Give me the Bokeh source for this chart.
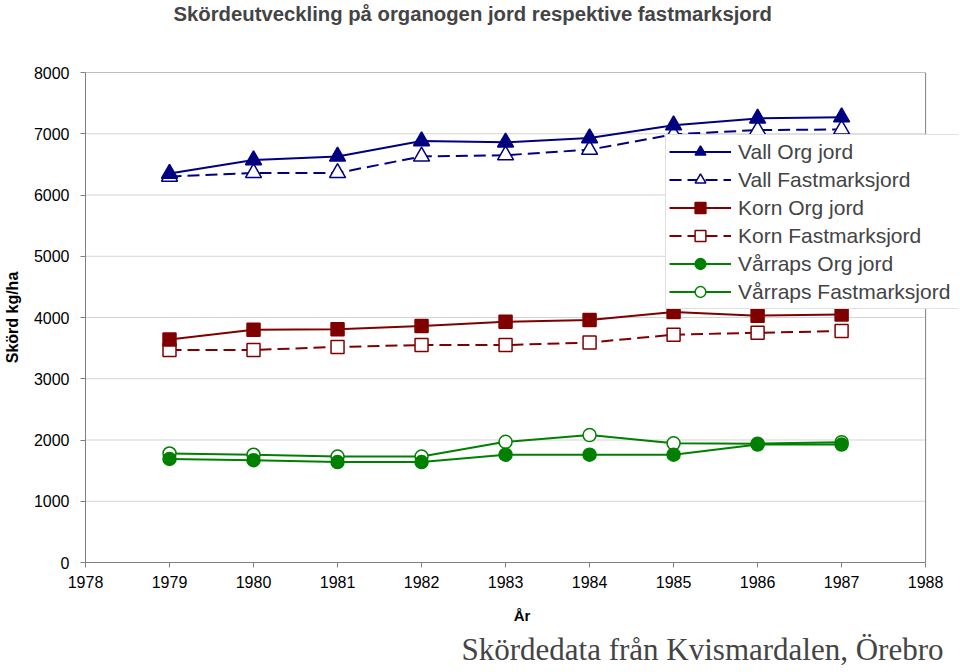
from bokeh.plotting import figure
from bokeh.models import Legend, LegendItem, Title, FixedTicker, Range1d
from bokeh.embed import file_html
from bokeh.resources import INLINE

# ---- data ----
years = [1979, 1980, 1981, 1982, 1983, 1984, 1985, 1986, 1987]
vall_org = [6350, 6570, 6630, 6880, 6860, 6930, 7140, 7250, 7270]
vall_fast = [6300, 6360, 6360, 6630, 6650, 6740, 6990, 7060, 7070]
korn_org = [3640, 3800, 3810, 3860, 3930, 3960, 4090, 4030, 4050]
korn_fast = [3470, 3470, 3520, 3550, 3550, 3590, 3720, 3750, 3780]
varraps_org = [1690, 1670, 1640, 1640, 1760, 1760, 1760, 1925, 1925]
varraps_fast = [1780, 1760, 1730, 1730, 1970, 2080, 1945, 1940, 1965]

x_ticks = [1978, 1979, 1980, 1981, 1982, 1983, 1984, 1985, 1986, 1987, 1988]
y_ticks = [0, 1000, 2000, 3000, 4000, 5000, 6000, 7000, 8000]

title_text = "Skördeutveckling på organogen jord respektive fastmarksjord"
source_text = "Skördedata från Kvismardalen, Örebro"
x_label = "År"
y_label = "Skörd kg/ha"
labels = ["Vall Org jord", "Vall Fastmarksjord", "Korn Org jord",
          "Korn Fastmarksjord", "Vårraps Org jord", "Vårraps Fastmarksjord"]

NAVY = "#000080"
RED = "#800000"
GREEN = "#008000"
GRAY = "#808080"
GRID = "#d4d4d4"
FONT = "Liberation Sans"

x0, x1 = x_ticks[0], x_ticks[-1]
y0, y1 = y_ticks[0], y_ticks[-1]
# frame extends a little to the right of the last year so the legend can overhang
x_pad = 33 / 84.3

p = figure(width=960, height=672, output_backend="svg", toolbar_location=None,
           x_range=Range1d(x0, x1 + x_pad), y_range=Range1d(y0, y1),
           min_border_left=82, min_border_right=2, min_border_top=71,
           min_border_bottom=110, background_fill_color="white",
           border_fill_color="white")

# spacer between title and frame
spacer = Title(text=" ", text_font_size="10px", standoff=35)
p.add_layout(spacer, "above")

p.title.text = title_text
p.title.text_font = FONT
p.title.text_font_size = "20.3px"
p.title.text_font_style = "bold"
p.title.align = "left"
p.title.offset = 88
p.title.standoff = 0

p.outline_line_color = None

# axes
for ax in (p.xaxis, p.yaxis):
    ax.axis_line_color = GRAY
    ax.major_tick_line_color = GRAY
    ax.minor_tick_line_color = None
    ax.major_tick_in = 0
    ax.major_tick_out = 5
    ax.major_label_text_font = FONT
    ax.major_label_text_font_size = "16px"
    ax.major_label_text_color = "black"
    ax.axis_label_text_font = FONT
    ax.axis_label_text_font_style = "bold"
    ax.axis_label_text_color = "black"

p.xaxis.ticker = FixedTicker(ticks=x_ticks)
p.xaxis.bounds = (x0, x1)
p.yaxis.ticker = FixedTicker(ticks=y_ticks)
p.xaxis.major_label_standoff = 8
p.yaxis.major_label_standoff = 11
p.xaxis.axis_label = x_label
p.xaxis.axis_label_text_font_size = "15px"
p.xaxis.axis_label_standoff = 16
p.yaxis.axis_label = y_label
p.yaxis.axis_label_text_font_size = "16px"
p.yaxis.axis_label_standoff = 10

p.xgrid.grid_line_color = None
p.ygrid.grid_line_color = None

# gridlines and frame border limited to the 1978-1988 span
inner = [t for t in y_ticks if y0 < t < y1]
p.segment(x0=[x0] * len(inner), y0=inner, x1=[x1] * len(inner), y1=inner,
          line_color=GRID, line_width=1)
p.segment(x0=[x0, x1], y0=[y1, y0], x1=[x1, x1], y1=[y1, y1],
          line_color=GRAY, line_width=1)

DASH = "12 6"

def series(ys, color, marker, size, filled, dashed):
    ln = p.line(years, ys, line_color=color, line_width=2,
                line_dash=DASH if dashed else "solid")
    sc = p.scatter(years, ys, marker=marker, size=size, line_color=color,
                   line_width=1.5, fill_color=color if filled else "white")
    return [ln, sc]

r_vf = series(vall_fast, NAVY, "triangle", 16, False, True)
r_vo = series(vall_org, NAVY, "triangle", 16, True, False)
r_kf = series(korn_fast, RED, "square", 13, False, True)
r_ko = series(korn_org, RED, "square", 13, True, False)
r_rf = series(varraps_fast, GREEN, "circle", 13, False, False)
r_ro = series(varraps_org, GREEN, "circle", 13, True, False)

items = [LegendItem(label=lab, renderers=r) for lab, r in
         zip(labels, [r_vo, r_vf, r_ko, r_kf, r_ro, r_rf])]
legend = Legend(items=items, location=(580, 253),
                label_text_font=FONT, label_text_font_size="21px",
                glyph_width=62, glyph_height=27, label_height=27,
                label_width=219, spacing=1, padding=3, margin=0,
                label_standoff=7, border_line_color="#c0c0c0",
                background_fill_color="white", background_fill_alpha=1)
p.add_layout(legend)

src = Title(text=source_text, text_font="Liberation Serif",
            text_font_size="31px", text_font_style="normal",
            align="right", offset=15, standoff=7)
p.add_layout(src, "below")

open("out.html", "w").write(file_html(p, INLINE))
